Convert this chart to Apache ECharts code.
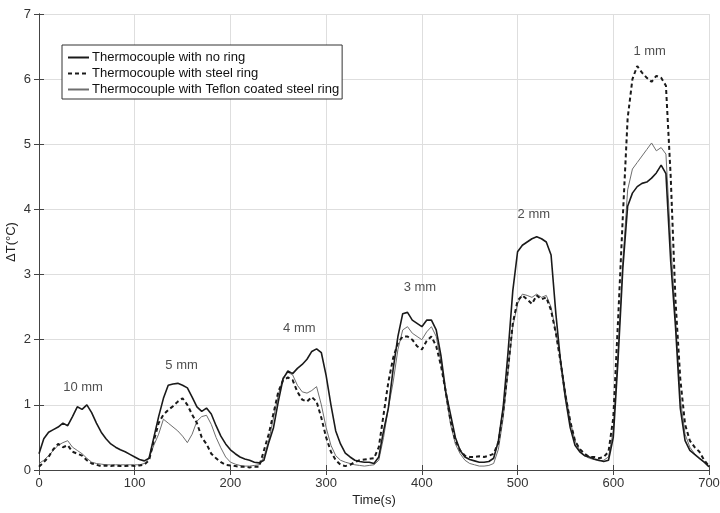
<!DOCTYPE html>
<html>
<head>
<meta charset="utf-8">
<script src="https://cdn.jsdelivr.net/npm/echarts@6/dist/echarts.min.js"></script>
<style>
  html, body { margin: 0; padding: 0; background: #fff; }
  #chart { width: 720px; height: 513px; }
</style>
</head>
<body>
<div id="chart"></div>
<script>
// time axis, seconds (5 s step)
var times = [];
for (var t = 0; t <= 700; t += 5) times.push(t);

// ΔT readings for each thermocouple set-up
var noRing = [
  0.25, 0.48, 0.58, 0.62, 0.66, 0.72, 0.68, 0.82, 0.97, 0.93,
  1.0, 0.88, 0.72, 0.58, 0.48, 0.4, 0.35, 0.31, 0.28, 0.24,
  0.2, 0.16, 0.14, 0.18, 0.5, 0.82, 1.1, 1.3, 1.32, 1.33,
  1.3, 1.26, 1.12, 0.97, 0.9, 0.95, 0.86, 0.68, 0.52, 0.4,
  0.31, 0.25, 0.2, 0.17, 0.15, 0.12, 0.11, 0.15, 0.42, 0.65,
  1.05, 1.4, 1.52, 1.48, 1.56, 1.62, 1.7, 1.82, 1.86, 1.8,
  1.45, 1.0, 0.6, 0.4, 0.26, 0.2, 0.15, 0.13, 0.12, 0.12,
  0.1, 0.2, 0.6, 0.95, 1.55, 2.05, 2.4, 2.42, 2.3, 2.25,
  2.2, 2.3, 2.3, 2.15, 1.75, 1.2, 0.85, 0.5, 0.3, 0.2,
  0.16, 0.14, 0.12, 0.12, 0.13, 0.18, 0.45, 0.97, 1.8, 2.75,
  3.35, 3.45, 3.5, 3.55, 3.58, 3.55, 3.5, 3.3, 2.4, 1.65,
  1.1, 0.65, 0.38, 0.28, 0.22, 0.2, 0.17, 0.15, 0.13, 0.15,
  0.5, 1.7, 3.1, 4.05, 4.25, 4.35, 4.4, 4.42, 4.48, 4.56,
  4.68, 4.55, 3.2, 2.2, 0.95, 0.45, 0.3, 0.24, 0.18, 0.12,
  0.05
];
var steelRing = [
  0.05, 0.12, 0.2, 0.32, 0.4, 0.35, 0.38, 0.28, 0.25, 0.22,
  0.15, 0.1, 0.08, 0.06, 0.07, 0.06, 0.07, 0.06, 0.06, 0.07,
  0.06, 0.07, 0.08, 0.15, 0.45, 0.72, 0.85, 0.92, 0.98, 1.05,
  1.1, 1.0, 0.85, 0.72, 0.5, 0.4, 0.25, 0.18, 0.12, 0.08,
  0.07, 0.06, 0.05, 0.05, 0.04, 0.05, 0.05, 0.3, 0.55, 0.87,
  1.2, 1.38, 1.42, 1.38, 1.2, 1.08, 1.05, 1.12, 1.05, 0.8,
  0.5, 0.28, 0.15, 0.08, 0.06, 0.08, 0.12, 0.15, 0.16, 0.17,
  0.18, 0.35, 0.85, 1.35, 1.72, 1.95, 2.05, 2.05, 2.0, 1.9,
  1.85, 1.98, 2.05, 1.9, 1.6, 1.2, 0.75, 0.45, 0.3, 0.22,
  0.2, 0.2, 0.21, 0.2, 0.22, 0.25, 0.42, 0.9, 1.55, 2.25,
  2.6, 2.68, 2.62, 2.55, 2.68, 2.62, 2.65, 2.45, 2.1, 1.65,
  1.15, 0.75, 0.45, 0.32, 0.25, 0.2, 0.2, 0.18, 0.2, 0.28,
  0.8, 2.3, 3.9, 5.4, 6.0, 6.2, 6.1, 6.02, 5.96, 6.05,
  6.02, 5.9, 4.5, 2.6, 1.4, 0.7, 0.45, 0.35, 0.28, 0.15,
  0.06
];
var teflonRing = [
  0.1, 0.15, 0.22, 0.3, 0.38, 0.42, 0.45, 0.35, 0.3, 0.25,
  0.18, 0.12, 0.1, 0.09, 0.08, 0.08, 0.08, 0.08, 0.08, 0.08,
  0.08, 0.08, 0.1, 0.18, 0.38, 0.55, 0.78, 0.72, 0.66, 0.6,
  0.52, 0.42, 0.55, 0.75, 0.82, 0.84, 0.7, 0.5, 0.34, 0.2,
  0.12, 0.09, 0.07, 0.06, 0.06, 0.07, 0.08, 0.2, 0.45, 0.8,
  1.15, 1.42, 1.5, 1.46, 1.3, 1.2, 1.18, 1.22, 1.28, 1.0,
  0.65, 0.38, 0.22, 0.15, 0.12, 0.1, 0.08, 0.07, 0.06, 0.07,
  0.08, 0.15, 0.5, 0.95, 1.35, 1.85, 2.15, 2.2, 2.1, 2.05,
  2.0, 2.12, 2.2, 2.05, 1.65, 1.15, 0.7, 0.4, 0.25, 0.15,
  0.1, 0.08, 0.06, 0.06, 0.07, 0.1, 0.32, 0.8, 1.5, 2.2,
  2.55, 2.7, 2.68, 2.65, 2.7, 2.65, 2.68, 2.5, 2.12, 1.7,
  1.2, 0.75, 0.45, 0.3, 0.22, 0.18, 0.16, 0.14, 0.15, 0.2,
  0.6, 1.8, 3.2, 4.3, 4.62, 4.72, 4.82, 4.92, 5.02, 4.9,
  4.95, 4.85, 3.5, 2.3, 1.1, 0.55, 0.35, 0.25, 0.18, 0.12,
  0.04
];

// gap annotations
var gapText = ['10 mm', '5 mm', '4 mm', '3 mm', '2 mm', '1 mm'];
var gapT = [46, 149, 272, 398, 517, 638];
var gapV = [1.27, 1.61, 2.18, 2.8, 3.93, 6.42];

var FONT = 'Liberation Sans';

function pairs(vals) {
    return times.map(function (t, i) { return [t, vals[i]]; });
}

var myChart = echarts.init(document.getElementById('chart'));

var option = {
    animation: false,
    backgroundColor: '#fff',
    textStyle: { fontFamily: FONT },
    grid: { left: 39, right: 11, top: 14, bottom: 43, outerBoundsMode: 'none', containLabel: false },
    legend: {
        left: 62,
        top: 45,
        orient: 'vertical',
        itemWidth: 21,
        itemHeight: 12,
        itemGap: 3,
        padding: [6, 3, 3, 5],
        borderColor: '#333',
        borderWidth: 1,
        backgroundColor: '#fff',
        itemStyle: { opacity: 0 },
        textStyle: { fontSize: 13, color: '#111', fontFamily: FONT, padding: [0, 0, 0, -2] },
        data: ['Thermocouple with no ring', 'Thermocouple with steel ring', 'Thermocouple with Teflon coated steel ring']
    },
    xAxis: [
        {
            type: 'value', min: 0, max: 700, interval: 100,
            name: 'Time(s)', nameLocation: 'middle', nameGap: 24, nameMoveOverlap: false,
            nameTextStyle: { fontSize: 13, color: '#222', fontFamily: FONT },
            axisLine: { lineStyle: { color: '#444' } },
            axisTick: { inside: true, length: 5, lineStyle: { color: '#444' } },
            axisLabel: { fontSize: 13, color: '#333', margin: 7 },
            splitLine: { show: true, lineStyle: { color: '#dedede' } }
        },
        {
            type: 'value', min: 0, max: 700, interval: 100, position: 'top',
            axisLine: { lineStyle: { color: '#444' } },
            axisTick: { inside: true, length: 5, lineStyle: { color: '#444' } },
            axisLabel: { show: false },
            splitLine: { show: false }
        }
    ],
    yAxis: [
        {
            type: 'value', min: 0, max: 7, interval: 1,
            name: 'ΔT(°C)', nameLocation: 'middle', nameGap: 21, nameRotate: 90, nameMoveOverlap: false,
            nameTextStyle: { fontSize: 13, color: '#222', fontFamily: FONT },
            axisLine: { show: true, lineStyle: { color: '#444' } },
            axisTick: { show: true, inside: true, length: 5, lineStyle: { color: '#444' } },
            axisLabel: { fontSize: 13, color: '#333', margin: 8 },
            splitLine: { show: true, lineStyle: { color: '#dedede' } }
        },
        {
            type: 'value', min: 0, max: 7, interval: 1, position: 'right',
            axisLine: { show: true, lineStyle: { color: '#444' } },
            axisTick: { show: true, inside: true, length: 5, lineStyle: { color: '#444' } },
            axisLabel: { show: false },
            splitLine: { show: false }
        }
    ],
    series: [
        {
            name: 'Thermocouple with no ring',
            type: 'line', symbol: 'none', z: 3,
            lineStyle: { color: '#1a1a1a', width: 1.6 },
            itemStyle: { color: '#1a1a1a' },
            data: pairs(noRing)
        },
        {
            name: 'Thermocouple with steel ring',
            type: 'line', symbol: 'none', z: 4,
            lineStyle: { color: '#1a1a1a', width: 2, type: [4, 3] },
            itemStyle: { color: '#1a1a1a' },
            data: pairs(steelRing)
        },
        {
            name: 'Thermocouple with Teflon coated steel ring',
            type: 'line', symbol: 'none', z: 2,
            lineStyle: { color: '#6e6e6e', width: 1 },
            itemStyle: { color: '#6e6e6e' },
            data: pairs(teflonRing)
        },
        {
            name: 'gaps',
            type: 'scatter', symbolSize: 0, silent: true,
            label: {
                show: true, position: 'inside', fontSize: 13, color: '#222', fontFamily: FONT,
                formatter: function (p) { return gapText[p.dataIndex]; }
            },
            data: gapT.map(function (t, i) { return [t, gapV[i]]; })
        }
    ]
};

myChart.setOption(option);
</script>
</body>
</html>
